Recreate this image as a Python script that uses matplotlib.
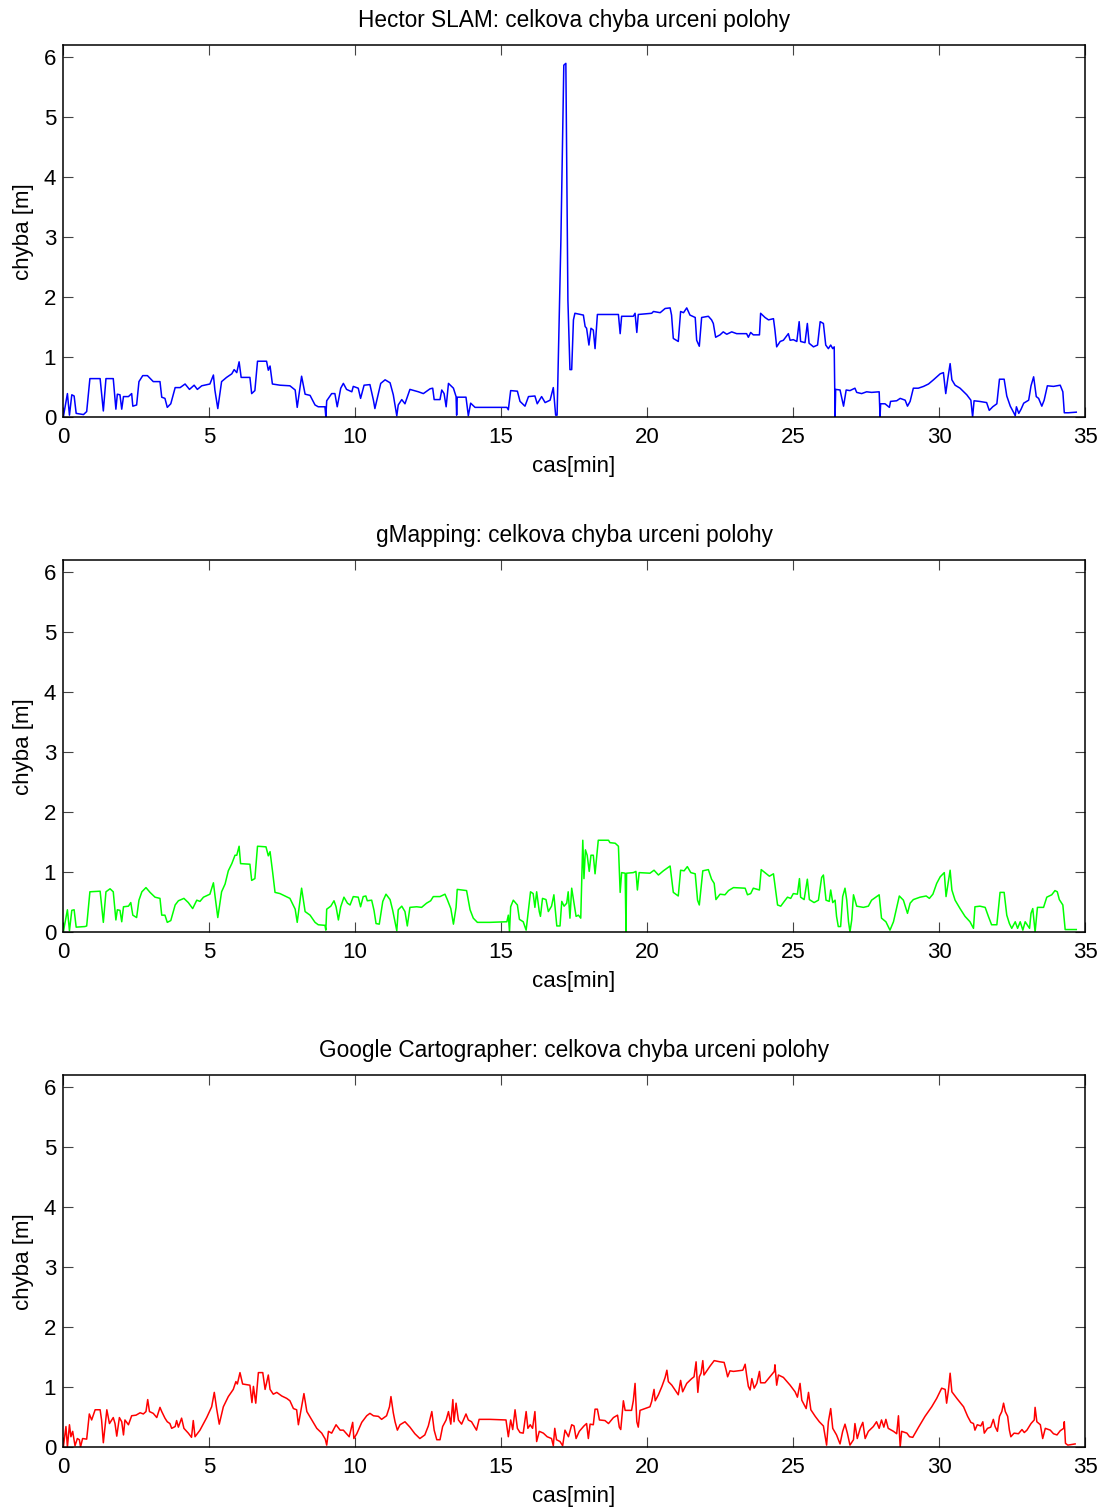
import matplotlib
matplotlib.use("Agg")
import matplotlib.pyplot as plt

plt.rcParams['font.family'] = ['Liberation Sans', 'DejaVu Sans']

# ---------------- data ----------------
titles = ["Hector SLAM: celkova chyba urceni polohy",
          "gMapping: celkova chyba urceni polohy",
          "Google Cartographer: celkova chyba urceni polohy"]
xlabel_text = "cas[min]"
ylabel_text = "chyba [m]"
x_ticks = [0, 5, 10, 15, 20, 25, 30, 35]
y_ticks = [0, 1, 2, 3, 4, 5, 6]

hector_t = [0.01, 0.15, 0.22, 0.3, 0.38, 0.45, 0.7, 0.81, 0.92, 1.27, 1.38, 1.47, 1.72, 1.81, 1.86,
            1.95, 2.01, 2.07, 2.24, 2.35, 2.39, 2.52, 2.6, 2.73, 2.89, 3.09, 3.15, 3.32, 3.38, 3.49,
            3.57, 3.69, 3.84, 4.01, 4.18, 4.33, 4.49, 4.6, 4.75, 5.03, 5.15, 5.2, 5.3, 5.43, 5.6,
            5.78, 5.86, 5.95, 6.03, 6.1, 6.4, 6.46, 6.57, 6.66, 6.97, 7.03, 7.09, 7.17, 7.43, 7.77,
            7.95, 8.02, 8.17, 8.29, 8.46, 8.63, 8.74, 8.97, 9.0, 9.03, 9.2, 9.31, 9.39, 9.51, 9.6,
            9.71, 9.89, 9.94, 10.11, 10.19, 10.31, 10.51, 10.63, 10.68, 10.88, 11.03, 11.2, 11.31,
            11.43, 11.48, 11.6, 11.71, 11.88, 12.17, 12.34, 12.57, 12.66, 12.71, 12.91, 12.97, 13.05,
            13.12, 13.2, 13.37, 13.46, 13.48, 13.5, 13.8, 13.88, 13.96, 14.11, 14.62, 15.2, 15.25,
            15.33, 15.56, 15.65, 15.82, 15.94, 16.16, 16.24, 16.39, 16.51, 16.68, 16.79, 16.87,
            16.92, 17.05, 17.15, 17.22, 17.29, 17.36, 17.42, 17.48, 17.53, 17.82, 17.88, 17.93,
            18.01, 18.08, 18.16, 18.22, 18.3, 19.02, 19.08, 19.13, 19.53, 19.59, 19.65, 19.7, 20.16,
            20.22, 20.45, 20.62, 20.79, 20.84, 20.9, 21.07, 21.15, 21.25, 21.36, 21.47, 21.65, 21.7,
            21.79, 21.87, 22.1, 22.21, 22.27, 22.35, 22.5, 22.61, 22.73, 22.9, 23.07, 23.41, 23.47,
            23.55, 23.64, 23.85, 23.89, 24.04, 24.16, 24.33, 24.38, 24.44, 24.56, 24.67, 24.84,
            24.9, 25.01, 25.13, 25.21, 25.26, 25.41, 25.49, 25.55, 25.7, 25.84, 25.93, 26.04, 26.12,
            26.21, 26.29, 26.36, 26.41, 26.44, 26.46, 26.61, 26.73, 26.82, 26.95, 27.12, 27.18,
            27.35, 27.52, 27.69, 27.95, 27.98, 28.0, 28.15, 28.3, 28.34, 28.55, 28.67, 28.84, 28.92,
            29.01, 29.12, 29.29, 29.47, 29.64, 29.81, 30.04, 30.15, 30.23, 30.3, 30.38, 30.44,
            30.55, 30.72, 30.95, 31.09, 31.15, 31.2, 31.38, 31.63, 31.72, 31.84, 31.98, 32.07,
            32.23, 32.32, 32.44, 32.56, 32.61, 32.65, 32.73, 32.81, 32.9, 33.07, 33.15, 33.24,
            33.33, 33.41, 33.52, 33.6, 33.71, 33.92, 34.15, 34.24, 34.29, 34.43, 34.7]
hector_err = [0.0, 0.39, 0.03, 0.37, 0.35, 0.06, 0.04, 0.09, 0.64, 0.64, 0.1, 0.64, 0.64, 0.13, 0.38,
              0.37, 0.13, 0.34, 0.34, 0.39, 0.18, 0.2, 0.59, 0.69, 0.69, 0.59, 0.59, 0.59, 0.33, 0.31,
              0.16, 0.22, 0.49, 0.49, 0.55, 0.46, 0.53, 0.46, 0.52, 0.55, 0.7, 0.45, 0.14, 0.59, 0.66,
              0.72, 0.79, 0.74, 0.92, 0.66, 0.66, 0.39, 0.44, 0.93, 0.93, 0.78, 0.85, 0.55, 0.53, 0.52,
              0.45, 0.16, 0.68, 0.38, 0.36, 0.2, 0.17, 0.17, 0.0, 0.27, 0.39, 0.39, 0.17, 0.48, 0.56,
              0.46, 0.42, 0.51, 0.48, 0.31, 0.53, 0.54, 0.28, 0.14, 0.56, 0.62, 0.57, 0.37,
              0.02, 0.2, 0.29, 0.22, 0.46, 0.42, 0.39, 0.47, 0.48, 0.29, 0.29, 0.45, 0.39,
              0.17, 0.56, 0.48, 0.34, 0.03, 0.33, 0.33, 0.02, 0.23, 0.16, 0.16, 0.16, 0.12,
              0.44, 0.43, 0.26, 0.18, 0.34, 0.35, 0.22, 0.34, 0.24, 0.28, 0.49, 0.03,
              0.03, 2.95, 5.87, 5.9, 1.95, 0.79, 0.79, 1.62, 1.73, 1.7, 1.51, 1.48,
              1.2, 1.48, 1.45, 1.14, 1.71, 1.71, 1.39, 1.68, 1.68, 1.73, 1.41, 1.71, 1.73,
              1.76, 1.74, 1.81, 1.82, 1.7, 1.31, 1.26, 1.76, 1.74, 1.82, 1.7, 1.66, 1.28,
              1.18, 1.66, 1.68, 1.62, 1.56, 1.33, 1.37, 1.42, 1.38, 1.42, 1.39, 1.39, 1.33,
              1.41, 1.37, 1.37, 1.73, 1.66, 1.62, 1.64, 1.45, 1.17, 1.26, 1.28, 1.39,
              1.28, 1.29, 1.26, 1.59, 1.26, 1.24, 1.56, 1.23, 1.17, 1.2, 1.59, 1.56, 1.2,
              1.14, 1.2, 1.14, 1.17, 0.0, 0.46, 0.45, 0.18, 0.45, 0.44, 0.48, 0.41,
              0.39, 0.42, 0.41, 0.42, 0.0, 0.22, 0.22, 0.16, 0.26, 0.27, 0.31, 0.28, 0.18,
              0.26, 0.48, 0.48, 0.51, 0.55, 0.62, 0.72, 0.74, 0.39, 0.64, 0.89, 0.62,
              0.53, 0.48, 0.37, 0.28, 0.0, 0.27, 0.26, 0.24, 0.11, 0.17, 0.22, 0.63,
              0.63, 0.35, 0.18, 0.07, 0.02, 0.17, 0.06, 0.13, 0.23, 0.28, 0.52, 0.67,
              0.34, 0.31, 0.18, 0.28, 0.52, 0.51, 0.53, 0.42, 0.07, 0.07, 0.08]

gmap_t = [0.01, 0.15, 0.22, 0.3, 0.38, 0.45, 0.75, 0.81, 0.92, 1.27, 1.38, 1.47, 1.61, 1.72, 1.81,
          1.86, 1.95, 2.01, 2.07, 2.24, 2.32, 2.39, 2.52, 2.6, 2.7, 2.84, 2.98, 3.15, 3.32, 3.38,
          3.49, 3.57, 3.69, 3.84, 3.95, 4.14, 4.29, 4.44, 4.58, 4.69, 4.81, 5.03, 5.15, 5.2, 5.3,
          5.43, 5.55, 5.66, 5.78, 5.89, 5.95, 6.03, 6.08, 6.4, 6.46, 6.57, 6.66, 6.95, 7.03, 7.09,
          7.18, 7.26, 7.43, 7.77, 7.95, 8.02, 8.17, 8.29, 8.46, 8.63, 8.74, 8.97, 9.0, 9.03, 9.17,
          9.28, 9.35, 9.43, 9.51, 9.62, 9.74, 9.83, 9.94, 10.11, 10.19, 10.28, 10.37, 10.42, 10.57,
          10.65, 10.72, 10.83, 10.95, 11.06, 11.2, 11.29, 11.43, 11.48, 11.6, 11.71, 11.79, 11.88,
          12.11, 12.28, 12.45, 12.59, 12.68, 12.91, 13.08, 13.16, 13.28, 13.37, 13.46, 13.5, 13.82,
          13.94, 14.05, 14.19, 14.62, 15.2, 15.25, 15.29, 15.33, 15.42, 15.56, 15.63, 15.76, 15.86,
          15.94, 16.01, 16.1, 16.16, 16.22, 16.31, 16.35, 16.42, 16.54, 16.62, 16.73, 16.81, 16.91,
          17.02, 17.08, 17.16, 17.25, 17.3, 17.36, 17.42, 17.57, 17.65, 17.73, 17.8, 17.84, 17.89,
          17.95, 18.02, 18.08, 18.16, 18.22, 18.33, 18.68, 18.73, 18.91, 19.02, 19.08, 19.13,
          19.25, 19.28, 19.3, 19.53, 19.62, 19.67, 19.73, 20.1, 20.24, 20.39, 20.56, 20.79, 20.9,
          21.07, 21.15, 21.27, 21.38, 21.5, 21.65, 21.73, 21.79, 21.91, 22.1, 22.21, 22.3, 22.36,
          22.5, 22.67, 22.79, 22.96, 23.36, 23.44, 23.55, 23.64, 23.85, 23.91, 24.04, 24.19, 24.33,
          24.47, 24.58, 24.7, 24.81, 24.92, 25.01, 25.15, 25.22, 25.26, 25.38, 25.49, 25.56, 25.72,
          25.87, 25.98, 26.04, 26.13, 26.24, 26.29, 26.36, 26.44, 26.49, 26.55, 26.63, 26.7, 26.78,
          26.84, 26.9, 26.95, 27.01, 27.07, 27.18, 27.41, 27.58, 27.69, 27.95, 28.03, 28.18, 28.32,
          28.44, 28.55, 28.64, 28.78, 28.92, 29.01, 29.12, 29.35, 29.56, 29.67, 29.79, 29.92,
          30.04, 30.18, 30.24, 30.3, 30.38, 30.44, 30.55, 30.72, 30.89, 31.06, 31.18, 31.23, 31.4,
          31.58, 31.69, 31.8, 31.98, 32.09, 32.23, 32.32, 32.41, 32.49, 32.61, 32.69, 32.78, 32.87,
          32.95, 33.1, 33.15, 33.21, 33.29, 33.37, 33.58, 33.69, 33.86, 33.97, 34.05, 34.12, 34.24,
          34.32, 34.46, 34.7]
gmap_err = [0.0, 0.37, 0.02, 0.36, 0.37, 0.08, 0.09, 0.1, 0.67, 0.68, 0.16, 0.67, 0.72, 0.67, 0.2,
            0.37, 0.36, 0.17, 0.42, 0.43, 0.49, 0.28, 0.24, 0.53, 0.67, 0.74, 0.66, 0.58, 0.56, 0.28,
            0.28, 0.16, 0.19, 0.45, 0.52, 0.56, 0.49, 0.39, 0.53, 0.51, 0.58, 0.63, 0.82, 0.62, 0.24,
            0.67, 0.8, 1.02, 1.14, 1.28, 1.28, 1.43, 1.14, 1.13, 0.86, 0.89, 1.43, 1.42, 1.27, 1.34,
            0.99, 0.66, 0.64, 0.56, 0.38, 0.16, 0.73, 0.34, 0.28, 0.16, 0.12, 0.11, 0.03, 0.38, 0.43,
            0.52, 0.42, 0.2, 0.42, 0.58, 0.48, 0.45, 0.59, 0.58, 0.42, 0.59, 0.6, 0.52, 0.53,
            0.36, 0.14, 0.13, 0.51, 0.63, 0.54, 0.36, 0.02, 0.37, 0.43, 0.34, 0.1, 0.41,
            0.42, 0.41, 0.48, 0.52, 0.59, 0.59, 0.63, 0.54, 0.39, 0.13, 0.41, 0.71, 0.69,
            0.37, 0.23, 0.16, 0.16, 0.17, 0.28, 0.0, 0.42, 0.53, 0.45, 0.21, 0.17, 0.03,
            0.38, 0.67, 0.64, 0.41, 0.67, 0.34, 0.26, 0.56, 0.54, 0.34, 0.43, 0.62, 0.1,
            0.1, 0.51, 0.43, 0.48, 0.67, 0.23, 0.73, 0.26, 0.28, 0.23, 1.53, 0.89, 1.37,
            1.28, 1.01, 1.28, 1.28, 0.97, 1.53, 1.53, 1.49, 1.48, 1.43, 0.66, 0.99,
            0.98, 0.0, 0.98, 0.99, 1.01, 0.7, 0.99, 0.98, 1.03, 0.95, 1.02, 1.1, 0.66,
            0.6, 1.03, 1.02, 1.09, 0.99, 0.97, 0.53, 0.45, 1.02, 1.04, 0.88, 0.81, 0.54,
            0.63, 0.62, 0.69, 0.74, 0.73, 0.62, 0.64, 0.73, 0.7, 1.04, 0.99, 0.93, 0.97,
            0.45, 0.43, 0.51, 0.58, 0.56, 0.64, 0.63, 0.89, 0.58, 0.54, 0.88, 0.54, 0.49,
            0.53, 0.91, 0.95, 0.53, 0.51, 0.7, 0.49, 0.53, 0.26, 0.09, 0.09, 0.59, 0.73,
            0.53, 0.17, 0.0, 0.2, 0.62, 0.43, 0.41, 0.43, 0.53, 0.62, 0.23, 0.17, 0.03,
            0.17, 0.41, 0.6, 0.53, 0.31, 0.48, 0.54, 0.58, 0.6, 0.56, 0.63, 0.81,
            0.92, 0.99, 0.59, 0.78, 1.03, 0.7, 0.53, 0.39, 0.26, 0.17, 0.06, 0.42, 0.43,
            0.41, 0.26, 0.12, 0.12, 0.66, 0.66, 0.28, 0.14, 0.06, 0.17, 0.06, 0.17, 0.03,
            0.17, 0.06, 0.31, 0.39, 0.0, 0.41, 0.41, 0.58, 0.62, 0.69, 0.67, 0.54, 0.45,
            0.04, 0.04, 0.04]

carto_t = [0.01, 0.1, 0.15, 0.22, 0.27, 0.33, 0.41, 0.49, 0.56, 0.6, 0.67, 0.81, 0.9, 0.98, 1.1,
           1.27, 1.32, 1.38, 1.5, 1.59, 1.67, 1.72, 1.78, 1.84, 1.93, 2.01, 2.07, 2.12, 2.24, 2.35,
           2.5, 2.64, 2.75, 2.84, 2.9, 2.96, 3.09, 3.21, 3.32, 3.38, 3.49, 3.57, 3.66, 3.72, 3.84,
           3.89, 3.95, 4.06, 4.14, 4.29, 4.4, 4.46, 4.52, 4.69, 4.92, 5.09, 5.18, 5.26, 5.35, 5.49,
           5.66, 5.83, 5.92, 5.97, 6.06, 6.15, 6.4, 6.47, 6.52, 6.6, 6.69, 6.84, 6.92, 7.03, 7.09,
           7.2, 7.32, 7.49, 7.66, 7.77, 7.89, 8.0, 8.06, 8.17, 8.25, 8.35, 8.52, 8.69, 8.86, 8.98,
           9.03, 9.09, 9.2, 9.35, 9.49, 9.6, 9.69, 9.8, 9.92, 9.96, 10.06, 10.23, 10.4, 10.51, 10.63,
           10.8, 10.91, 11.08, 11.18, 11.23, 11.31, 11.37, 11.45, 11.54, 11.71, 11.88, 12.05, 12.22,
           12.39, 12.51, 12.63, 12.71, 12.8, 12.91, 13.0, 13.12, 13.2, 13.28, 13.35, 13.39, 13.46,
           13.54, 13.65, 13.8, 13.88, 13.99, 14.16, 14.25, 14.62, 15.17, 15.25, 15.33, 15.4, 15.48,
           15.56, 15.65, 15.76, 15.86, 15.92, 16.0, 16.08, 16.16, 16.22, 16.31, 16.45, 16.58, 16.73,
           16.79, 16.84, 16.9, 17.02, 17.11, 17.19, 17.31, 17.42, 17.5, 17.57, 17.68, 17.84, 17.93,
           17.99, 18.05, 18.16, 18.22, 18.3, 18.37, 18.56, 18.68, 18.85, 18.99, 19.05, 19.1, 19.19,
           19.25, 19.47, 19.53, 19.59, 19.65, 19.7, 19.76, 19.93, 20.1, 20.16, 20.24, 20.28, 20.39,
           20.51, 20.62, 20.68, 20.73, 20.85, 20.96, 21.07, 21.15, 21.22, 21.36, 21.53, 21.61,
           21.68, 21.74, 21.79, 21.85, 21.91, 21.95, 22.05, 22.16, 22.3, 22.5, 22.64, 22.71, 22.76,
           22.84, 22.96, 23.13, 23.28, 23.36, 23.41, 23.47, 23.53, 23.59, 23.67, 23.76, 23.85,
           23.89, 24.04, 24.21, 24.36, 24.38, 24.44, 24.5, 24.67, 24.9, 25.07, 25.15, 25.24, 25.3,
           25.45, 25.53, 25.61, 25.76, 25.9, 26.04, 26.1, 26.15, 26.21, 26.29, 26.36, 26.49, 26.61,
           26.7, 26.78, 26.86, 26.95, 27.07, 27.12, 27.2, 27.3, 27.39, 27.47, 27.58, 27.75, 27.86,
           27.95, 28.03, 28.11, 28.18, 28.26, 28.44, 28.55, 28.61, 28.67, 28.72, 28.9, 28.99, 29.1,
           29.3, 29.52, 29.75, 29.92, 30.09, 30.21, 30.26, 30.32, 30.38, 30.44, 30.61, 30.84, 30.98,
           31.09, 31.18, 31.23, 31.31, 31.43, 31.5, 31.55, 31.66, 31.77, 31.86, 31.92, 32.0, 32.07,
           32.15, 32.21, 32.27, 32.35, 32.41, 32.46, 32.57, 32.72, 32.84, 32.92, 33.01, 33.15,
           33.26, 33.29, 33.35, 33.47, 33.55, 33.64, 33.81, 33.92, 34.04, 34.15, 34.27, 34.29,
           34.33, 34.41, 34.66]
carto_err = [0.0, 0.34, 0.0, 0.37, 0.17, 0.26, 0.02, 0.14, 0.12, 0.0, 0.14, 0.13, 0.55, 0.45, 0.62,
             0.62, 0.45, 0.07, 0.62, 0.39, 0.45, 0.49, 0.39, 0.18, 0.49, 0.42, 0.2, 0.45, 0.37, 0.52,
             0.53, 0.57, 0.55, 0.59, 0.79, 0.59, 0.56, 0.49, 0.66, 0.59, 0.48, 0.42, 0.39, 0.31, 0.34,
             0.44, 0.33, 0.48, 0.31, 0.23, 0.16, 0.44, 0.17, 0.28, 0.49, 0.67, 0.91, 0.64, 0.38, 0.67,
             0.84, 0.96, 1.09, 1.05, 1.24, 1.05, 1.03, 0.74, 1.01, 0.73, 1.24, 1.24, 0.96, 1.2, 0.96,
             0.88, 0.91, 0.85, 0.81, 0.77, 0.64, 0.62, 0.37, 0.67, 0.89, 0.59, 0.45, 0.31, 0.23, 0.13,
             0.03, 0.26, 0.23, 0.37, 0.28, 0.28, 0.23, 0.17, 0.41, 0.14, 0.22, 0.41, 0.52, 0.56, 0.52,
             0.51, 0.46, 0.52, 0.67, 0.84, 0.57, 0.42, 0.28, 0.37, 0.42, 0.33, 0.22, 0.14,
             0.2, 0.35, 0.59, 0.28, 0.12, 0.12, 0.34, 0.45, 0.59, 0.38, 0.79, 0.42, 0.73,
             0.45, 0.38, 0.55, 0.45, 0.42, 0.28, 0.46, 0.46, 0.45, 0.17, 0.45, 0.29, 0.62,
             0.31, 0.24, 0.23, 0.59, 0.31, 0.37, 0.31, 0.59, 0.09, 0.26, 0.23, 0.17, 0.14,
             0.02, 0.31, 0.12, 0.09, 0.02, 0.28, 0.17, 0.37, 0.35, 0.14, 0.26, 0.35, 0.39,
             0.14, 0.38, 0.37, 0.63, 0.63, 0.45, 0.44, 0.39, 0.49, 0.53, 0.33, 0.29, 0.77,
             0.61, 0.61, 0.77, 1.06, 0.42, 0.33, 0.61, 0.64, 0.67, 0.76, 0.96, 0.77, 0.87,
             1.01, 1.16, 1.28, 1.09, 1.03, 0.95, 0.87, 1.11, 0.92, 1.06, 1.14, 1.17,
             1.42, 0.91, 1.17, 1.23, 1.44, 1.2, 1.27, 1.35, 1.44, 1.42, 1.41, 1.28, 1.17,
             1.27, 1.26, 1.27, 1.28, 1.38, 1.2, 1.01, 0.95, 1.14, 0.98, 1.06, 1.26,
             1.07, 1.07, 1.17, 1.26, 1.37, 1.03, 1.2, 1.16, 1.03, 0.92, 0.83, 1.06, 0.78,
             0.64, 0.91, 0.62, 0.51, 0.42, 0.35, 0.17, 0.03, 0.42, 0.64, 0.31, 0.2, 0.05,
             0.26, 0.38, 0.23, 0.03, 0.12, 0.39, 0.14, 0.31, 0.41, 0.14, 0.26, 0.34, 0.42,
             0.31, 0.45, 0.33, 0.46, 0.31, 0.26, 0.22, 0.52, 0.0, 0.26, 0.23, 0.17, 0.16,
             0.33, 0.51, 0.67, 0.81, 0.98, 0.96, 0.73, 0.94, 1.23, 0.92, 0.81, 0.67, 0.51,
             0.41, 0.39, 0.28, 0.37, 0.35, 0.42, 0.23, 0.31, 0.33, 0.46, 0.34, 0.26, 0.51,
             0.59, 0.73, 0.59, 0.51, 0.28, 0.17, 0.23, 0.22, 0.29, 0.24, 0.28, 0.39,
             0.45, 0.66, 0.42, 0.37, 0.14, 0.31, 0.28, 0.22, 0.2, 0.27, 0.31, 0.42,
             0.06, 0.03, 0.05]

series = [(hector_t, hector_err, (0, 0, 1)),
          (gmap_t, gmap_err, (0, 1, 0)),
          (carto_t, carto_err, (1, 0, 0))]

# ---------------- figure ----------------
fig = plt.figure(figsize=(11.02, 15.08), dpi=100)
left, width, height = 0.0572, 0.9274, 0.2464
bottoms = [0.7235, 0.3820, 0.0405]
fs = 16

for (t, e, col), title, b in zip(series, titles, bottoms):
    ax = fig.add_axes([left, b, width, height])
    ax.plot(t, e, color=col, linewidth=1.1)
    ax.set_xlim(0, 35)
    ax.set_ylim(0, 6.2)
    ax.set_xticks(x_ticks)
    ax.set_yticks(y_ticks)
    ax.set_xticklabels([str(v) for v in x_ticks], fontsize=fs)
    ax.set_yticklabels([str(v) for v in y_ticks], fontsize=fs)
    ax.tick_params(direction='in', length=7, width=0.8, top=True, right=True,
                   colors='#444444', labelcolor='black')
    ax.tick_params(axis='x', pad=7)
    ax.tick_params(axis='y', pad=5)
    for s in ax.spines.values():
        s.set_linewidth(1.1)
        s.set_color('black')
    ax.set_title(title, fontsize=16.3, pad=13)
    ax.set_xlabel(xlabel_text, fontsize=fs, labelpad=6)
    ax.set_ylabel(ylabel_text, fontsize=fs, labelpad=7)

fig.savefig("out.png", dpi=100, facecolor='white')
